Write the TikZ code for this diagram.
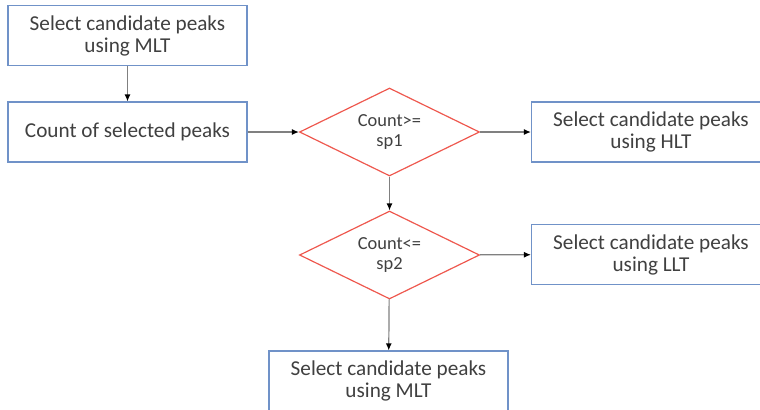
\documentclass[tikz,border=0pt]{standalone}
\definecolor{boxblue}{RGB}{112, 146, 200}
\definecolor{decred}{RGB}{238, 88, 78}
\definecolor{linegray}{RGB}{128, 128, 128}
\definecolor{textgray}{RGB}{64, 64, 64}
\usepackage{fontspec}
\setmainfont{Carlito}
\usepackage{tikz}
\usetikzlibrary{shapes, arrows.meta, positioning}

\begin{document}
\begin{tikzpicture}[x=0.5pt, y=-0.5pt,
  stepbox/.style={draw=boxblue, line width=0.6pt, fill=white, minimum width=119.5pt,
    minimum height=30pt, inner sep=0pt, align=center, text=textgray,
    font=\fontsize{10.6}{11}\selectfont},
  decision/.style={diamond, draw=decred, line width=0.6pt, aspect=2, minimum width=90pt,
    minimum height=44pt, inner sep=0pt, align=center, text=textgray,
    font=\fontsize{9.2}{9.6}\selectfont},
  flow/.style={draw=linegray, line width=0.6pt, -{Latex[black, length=3.5pt, width=3pt]}}]
  \clip (0, 0) rectangle (760, 409);

  % Left column
  \node[stepbox] (mlttop) at (127.5, 35.5) {Select candidate peaks\\using MLT};
  \node[stepbox] (count) at (127.5, 132) {Count of selected peaks};

  % Decisions
  \node[decision] (ge) at (389.5, 132) {Count>=\\sp1};
  \node[decision] (le) at (389.5, 255) {Count<=\\sp2};

  % Outcomes
  \node[stepbox] (hlt) at (651, 132) {Select candidate peaks\\using HLT};
  \node[stepbox] (llt) at (651, 254.5) {Select candidate peaks\\using LLT};
  \node[stepbox] (mltbot) at (388.5, 381) {Select candidate peaks\\using MLT};

  \draw[flow] (mlttop) -- (count);
  \draw[flow] (count) -- (ge);
  \draw[flow] (ge) -- (hlt);
  \draw[flow] (ge) -- (le);
  \draw[flow] (le) -- (llt);
  \draw[flow] (le) -- (mltbot);
\end{tikzpicture}
\end{document}
